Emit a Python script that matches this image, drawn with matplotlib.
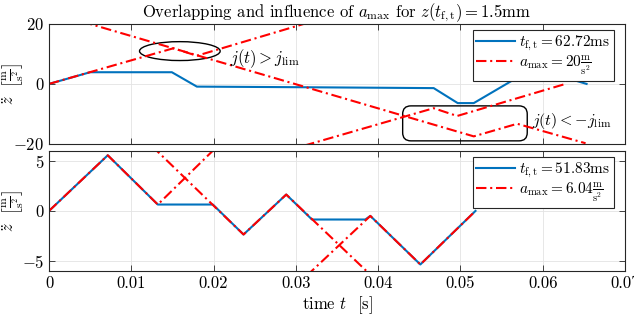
#Overlapping jerk segments -- acceleration profiles for z(t_f,t) = 1.5mm
import numpy as np
import matplotlib
matplotlib.use("Agg")
import matplotlib.pyplot as plt
from matplotlib.patches import Ellipse, FancyBboxPatch

plt.rcParams['font.family'] = 'serif'
plt.rcParams['font.serif'] = ['cmr10', 'DejaVu Serif']
plt.rcParams['mathtext.fontset'] = 'cm'
plt.rcParams['axes.formatter.use_mathtext'] = True
plt.rcParams['font.size'] = 12

#colours (matlab default-ish)
blue = '#0072BD'
red = '#FF0000'
dark = '#262626'

#top plot: a_max = 20 m/s^2
t_top = [0, 0.00499, 0.01493, 0.01797, 0.0305, 0.04675, 0.04967, 0.05162, 0.0569, 0.06277, 0.06533]
a_top = [0, 3.9, 3.9, -0.9, -1.1, -1.4, -6.4, -6.4, 2.1, 2.1, 0]

#red jerk segments (top)
t_r1 = [0, 0.01512, 0.01797, 0.0340]
a_r1 = [0, 11.9, 9.4, 22.5]
t_r2 = [0.0040, 0.05162, 0.0569, 0.06521]
a_r2 = [20.8, -17.5, -13.3, -19.8]
t_r3 = [0.0310, 0.04675, 0.0496, 0.06277]
a_r3 = [-20.6, -8.1, -10.7, 0]

#bottom plot: a_max = 6.04 m/s^2
t_bot = [0, 0.00714, 0.01322, 0.01991, 0.02364, 0.02883, 0.03196, 0.03844, 0.03905, 0.04513, 0.05183]
a_bot = [0, 5.57, 0.64, 0.64, -2.36, 1.64, -0.86, -0.86, -0.5, -5.36, 0]

#red jerk segments (bottom)
t_b1 = [0, 0.00714, 0.01322, 0.0205]
a_b1 = [0, 5.57, 0.64, 6.5]
t_b2 = [0.0125, 0.01991, 0.02364, 0.02883, 0.0392]
a_b2 = [6.5, 0.6, -2.36, 1.64, -6.5]
t_b3 = [0.0313, 0.03905, 0.04513, 0.05183]
a_b3 = [-6.5, -0.5, -5.36, 0]

fig = plt.figure(figsize=(6.34, 3.24), dpi=100)
ax1 = fig.add_axes([0.0773, 0.556, 0.9085, 0.370])
ax2 = fig.add_axes([0.0773, 0.164, 0.9085, 0.370])

for ax in (ax1, ax2):
    ax.set_xlim(0, 0.07)
    ax.grid(True, color='#e3e3e3', linewidth=0.6)
    ax.set_axisbelow(True)
    ax.tick_params(direction='in', top=True, right=True, color=dark, length=4, width=0.6)
    for s in ax.spines.values():
        s.set_color(dark)
        s.set_linewidth(0.8)

lw = 1.5
dd = (0, (5, 1.8, 1, 1.8))
ax1.plot(t_top, a_top, color=blue, lw=lw, label=r'$t_{\mathrm{f,t}} = 62.72$ms')
ax1.plot(t_r1, a_r1, color=red, lw=lw, ls=dd, label=r'$a_{\max} = 20\frac{\mathrm{m}}{\mathrm{s}^2}$')
ax1.plot(t_r2, a_r2, color=red, lw=lw, ls=dd)
ax1.plot(t_r3, a_r3, color=red, lw=lw, ls=dd)
ax1.set_ylim(-20, 20)
ax1.set_yticks([-20, 0, 20])
ax1.set_xticks(np.arange(0, 0.071, 0.01))
ax1.set_xticklabels([])
ax1.set_ylabel(r'$\ddot{z}\ \ \left[\frac{\mathrm{m}}{\mathrm{s}^2}\right]$')
ax1.yaxis.set_label_coords(-0.04, 0.5)
ax1.set_title(r'Overlapping and influence of $a_{\max}$ for $z(t_{\mathrm{f,t}}) = 1.5$mm',
              fontsize=12, pad=3)

ell = Ellipse((0.0159, 10.95), 0.0098, 6.3, fill=False, ec='k', lw=1.0)
ax1.add_patch(ell)
ax1.text(0.0220, 8.5, r'$j(t) > j_{\mathrm{lim}}$', va='center', ha='left')
box = FancyBboxPatch((0.04298, -19.0), 0.05812 - 0.04298, 11.67,
                     boxstyle='round,pad=0,rounding_size=0.001', mutation_aspect=2740,
                     fill=False, ec='k', lw=1.0)
ax1.add_patch(box)
ax1.text(0.05872, -12.3, r'$j(t) < -j_{\mathrm{lim}}$', va='center', ha='left', fontsize=11.5)

leg_kw = dict(loc='upper right', bbox_to_anchor=(0.981, 0.95), borderaxespad=0,
              fancybox=False, edgecolor=dark, framealpha=1, handlelength=2.5,
              borderpad=0.25, labelspacing=0.05, handletextpad=0.3, fontsize=11)
leg1 = ax1.legend(**leg_kw)
leg1.get_frame().set_linewidth(0.8)

ax2.plot(t_bot, a_bot, color=blue, lw=lw, label=r'$t_{\mathrm{f,t}} = 51.83$ms')
ax2.plot(t_b1, a_b1, color=red, lw=lw, ls=dd, label=r'$a_{\max} = 6.04\frac{\mathrm{m}}{\mathrm{s}^2}$')
ax2.plot(t_b2, a_b2, color=red, lw=lw, ls=dd)
ax2.plot(t_b3, a_b3, color=red, lw=lw, ls=dd)
ax2.set_ylim(-6, 6)
ax2.set_yticks([-5, 0, 5])
ax2.set_xticks(np.arange(0, 0.071, 0.01))
ax2.set_xticklabels(['0', '0.01', '0.02', '0.03', '0.04', '0.05', '0.06', '0.07'])
ax2.set_ylabel(r'$\ddot{z}\ \ \left[\frac{\mathrm{m}}{\mathrm{s}^2}\right]$')
ax2.yaxis.set_label_coords(-0.04, 0.5)
ax2.set_xlabel(r'time $t$  [s]', labelpad=2)

leg2 = ax2.legend(**leg_kw)
leg2.get_frame().set_linewidth(0.8)

fig.savefig('out.png', dpi=100)
